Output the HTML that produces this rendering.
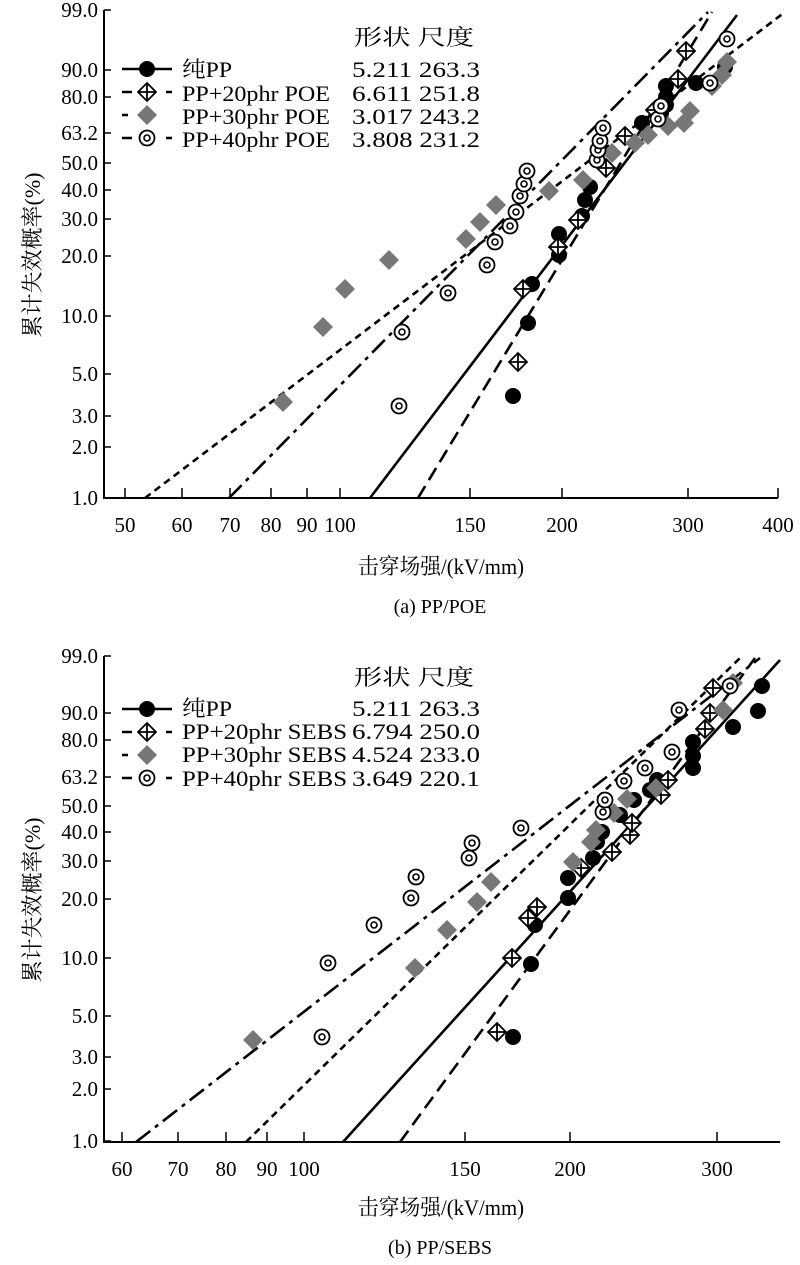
<!DOCTYPE html>
<html><head><meta charset="utf-8"><style>
body{margin:0;background:#fff}
svg{display:block}
text{font-family:"Liberation Serif","Noto Serif CJK SC","Noto Sans CJK SC",serif;fill:#000}
</style></head><body>
<svg id="s" width="800" height="1265" viewBox="0 0 800 1265" xmlns="http://www.w3.org/2000/svg">
<g stroke="#000" stroke-width="2" fill="none">
<path d="M104,10 V498 H778"/>
<path d="M104,656 V1142 H780"/>
</g>
<g id="ticks" stroke="#000" stroke-width="1.5"></g>
<g id="lines" stroke="#000" stroke-width="2.6" fill="none">
<line x1="370" y1="498" x2="737" y2="15"/>
<line x1="418" y1="498" x2="712" y2="12" stroke-dasharray="14,7"/>
<line x1="145" y1="498" x2="785" y2="12" stroke-dasharray="7,5"/>
<line x1="229" y1="498" x2="708" y2="12" stroke-dasharray="18,6,4,6"/>
<line x1="343" y1="1142" x2="780" y2="660"/>
<line x1="400" y1="1142" x2="755" y2="658" stroke-dasharray="14,7"/>
<line x1="246" y1="1142" x2="740" y2="658" stroke-dasharray="7,5"/>
<line x1="136" y1="1142" x2="760" y2="658" stroke-dasharray="18,6,4,6"/>
</g>
<g id="pts"></g>
<g font-size="22" lengthAdjust="spacingAndGlyphs">
<text x="354" y="45" textLength="120" lengthAdjust="spacingAndGlyphs">形状 尺度</text>
<text x="352" y="77" textLength="128" lengthAdjust="spacingAndGlyphs">5.211 263.3</text>
<text x="352" y="101" textLength="128" lengthAdjust="spacingAndGlyphs">6.611 251.8</text>
<text x="352" y="124" textLength="128" lengthAdjust="spacingAndGlyphs">3.017 243.2</text>
<text x="352" y="147" textLength="128" lengthAdjust="spacingAndGlyphs">3.808 231.2</text>
<text x="182" y="77" textLength="50" lengthAdjust="spacingAndGlyphs">纯PP</text>
<text x="182" y="101" textLength="148" lengthAdjust="spacingAndGlyphs">PP+20phr POE</text>
<text x="182" y="124" textLength="148" lengthAdjust="spacingAndGlyphs">PP+30phr POE</text>
<text x="182" y="147" textLength="148" lengthAdjust="spacingAndGlyphs">PP+40phr POE</text>
<text x="354" y="685" textLength="120" lengthAdjust="spacingAndGlyphs">形状 尺度</text>
<text x="352" y="716" textLength="128" lengthAdjust="spacingAndGlyphs">5.211 263.3</text>
<text x="352" y="739" textLength="128" lengthAdjust="spacingAndGlyphs">6.794 250.0</text>
<text x="352" y="762" textLength="128" lengthAdjust="spacingAndGlyphs">4.524 233.0</text>
<text x="352" y="786" textLength="128" lengthAdjust="spacingAndGlyphs">3.649 220.1</text>
<text x="182" y="716" textLength="50" lengthAdjust="spacingAndGlyphs">纯PP</text>
<text x="182" y="739" textLength="165" lengthAdjust="spacingAndGlyphs">PP+20phr SEBS</text>
<text x="182" y="762" textLength="165" lengthAdjust="spacingAndGlyphs">PP+30phr SEBS</text>
<text x="182" y="786" textLength="165" lengthAdjust="spacingAndGlyphs">PP+40phr SEBS</text>
<text x="358" y="574" textLength="166" lengthAdjust="spacingAndGlyphs">击穿场强/(kV/mm)</text>
<text x="440" y="613" text-anchor="middle" font-size="20">(a) PP/POE</text>
<text x="358" y="1215" textLength="166" lengthAdjust="spacingAndGlyphs">击穿场强/(kV/mm)</text>
<text x="440" y="1254" text-anchor="middle" font-size="20">(b) PP/SEBS</text>
<text transform="translate(40,255) rotate(-90)" text-anchor="middle">累计失效概率(%)</text>
<text transform="translate(40,900) rotate(-90)" text-anchor="middle">累计失效概率(%)</text>
</g>
<g id="lab" font-size="21"></g>
</svg>
<script>
var NS="http://www.w3.org/2000/svg";
function el(p,t,a){var e=document.createElementNS(NS,t);for(var k in a)e.setAttribute(k,a[k]);p.appendChild(e);return e;}
var T=document.getElementById('ticks'),L=document.getElementById('lab'),P=document.getElementById('pts');
var ya=[["99.0",10],["90.0",70],["80.0",97],["63.2",133],["50.0",163],["40.0",190],["30.0",219],["20.0",256],["10.0",316],["5.0",374],["3.0",416],["2.0",447],["1.0",498]];
var yb=[["99.0",656],["90.0",713],["80.0",740],["63.2",777],["50.0",806],["40.0",832],["30.0",861],["20.0",899],["10.0",958],["5.0",1016],["3.0",1057],["2.0",1089],["1.0",1141]];
ya.concat(yb).forEach(function(d){el(T,'line',{x1:104,x2:111,y1:d[1],y2:d[1]});el(L,'text',{x:98,y:d[1]+7,'text-anchor':'end'}).textContent=d[0];});
var xa=[["50",125],["60",182],["70",230],["80",271],["90",307],["100",340],["150",470],["200",562],["300",688],["400",778]];
var xb=[["60",122],["70",178],["80",226],["90",267],["100",304],["150",465],["200",570],["300",717]];
xa.forEach(function(d){el(T,'line',{x1:d[1],x2:d[1],y1:498,y2:488});el(L,'text',{x:d[1],y:532,'text-anchor':'middle'}).textContent=d[0];});
xb.forEach(function(d){el(T,'line',{x1:d[1],x2:d[1],y1:1142,y2:1132});el(L,'text',{x:d[1],y:1176,'text-anchor':'middle'}).textContent=d[0];});
function m(t,x,y){
 if(t==0)el(P,'circle',{cx:x,cy:y,r:8,fill:'#000'});
 else if(t==1){el(P,'path',{d:'M'+x+','+(y-9)+'L'+(x+9)+','+y+'L'+x+','+(y+9)+'L'+(x-9)+','+y+'Z M'+x+','+(y-9)+'V'+(y+9)+'M'+(x-9)+','+y+'H'+(x+9),fill:'#fff',stroke:'#000','stroke-width':1.8});}
 else if(t==2)el(P,'path',{d:'M'+x+','+(y-10)+'L'+(x+10)+','+y+'L'+x+','+(y+10)+'L'+(x-10)+','+y+'Z',fill:'#777'});
 else {el(P,'circle',{cx:x,cy:y,r:7.5,fill:'#fff',stroke:'#000','stroke-width':1.8});el(P,'circle',{cx:x,cy:y,r:3,fill:'none',stroke:'#000','stroke-width':1.6});}
}
[0,640].forEach(function(off){
 [[0,69,''],[1,92,'10,12'],[2,115,'6,22'],[3,138,'10,12']].forEach(function(d){
  el(P,'line',{x1:122,x2:172,y1:d[1]+off,y2:d[1]+off,stroke:'#000','stroke-width':2.5,'stroke-dasharray':d[2]});
  m(d[0],147,d[1]+off);});
});
var A=[
[0,[[513,396],[528,323],[532,284],[559,255],[559,234],[582,216],[585,200],[590,187],[642,123],[661,113],[666,105],[666,97],[666,86],[696,83],[725,67]]],
[1,[[518,362],[523,289],[558,247],[578,220],[606,168],[625,136],[655,110],[678,79],[686,51]]],
[2,[[283,402],[323,327],[345,289],[389,260],[466,239],[480,222],[496,205],[549,191],[583,180],[612,153],[635,143],[648,135],[668,126],[684,123],[690,111],[712,86],[722,75],[727,62]]],
[3,[[399,406],[402,332],[448,293],[487,265],[495,242],[510,226],[516,212],[520,196],[524,184],[527,171],[597,160],[598,150],[600,141],[603,128],[658,119],[661,106],[710,83],[727,39]]],
[0,[[513,1037],[531,964],[535,925],[568,898],[568,878],[593,858],[597,842],[602,832],[620,815],[634,800],[650,790],[657,780],[693,768],[693,756],[693,742],[733,727],[758,711],[762,686]]],
[1,[[497,1032],[512,958],[528,918],[537,907],[581,868],[612,852],[630,835],[632,823],[661,795],[668,780],[705,729],[710,713],[713,688]]],
[2,[[253,1040],[415,968],[447,930],[477,902],[491,882],[573,862],[591,842],[596,830],[614,813],[627,799],[656,788],[723,710],[733,683]]],
[3,[[322,1037],[328,963],[374,925],[411,898],[416,877],[469,858],[472,843],[521,828],[603,812],[605,800],[624,781],[645,768],[672,752],[679,710],[730,686]]]
];
A.forEach(function(s){s[1].forEach(function(p){m(s[0],p[0],p[1]);});});
</script>
</body></html>
